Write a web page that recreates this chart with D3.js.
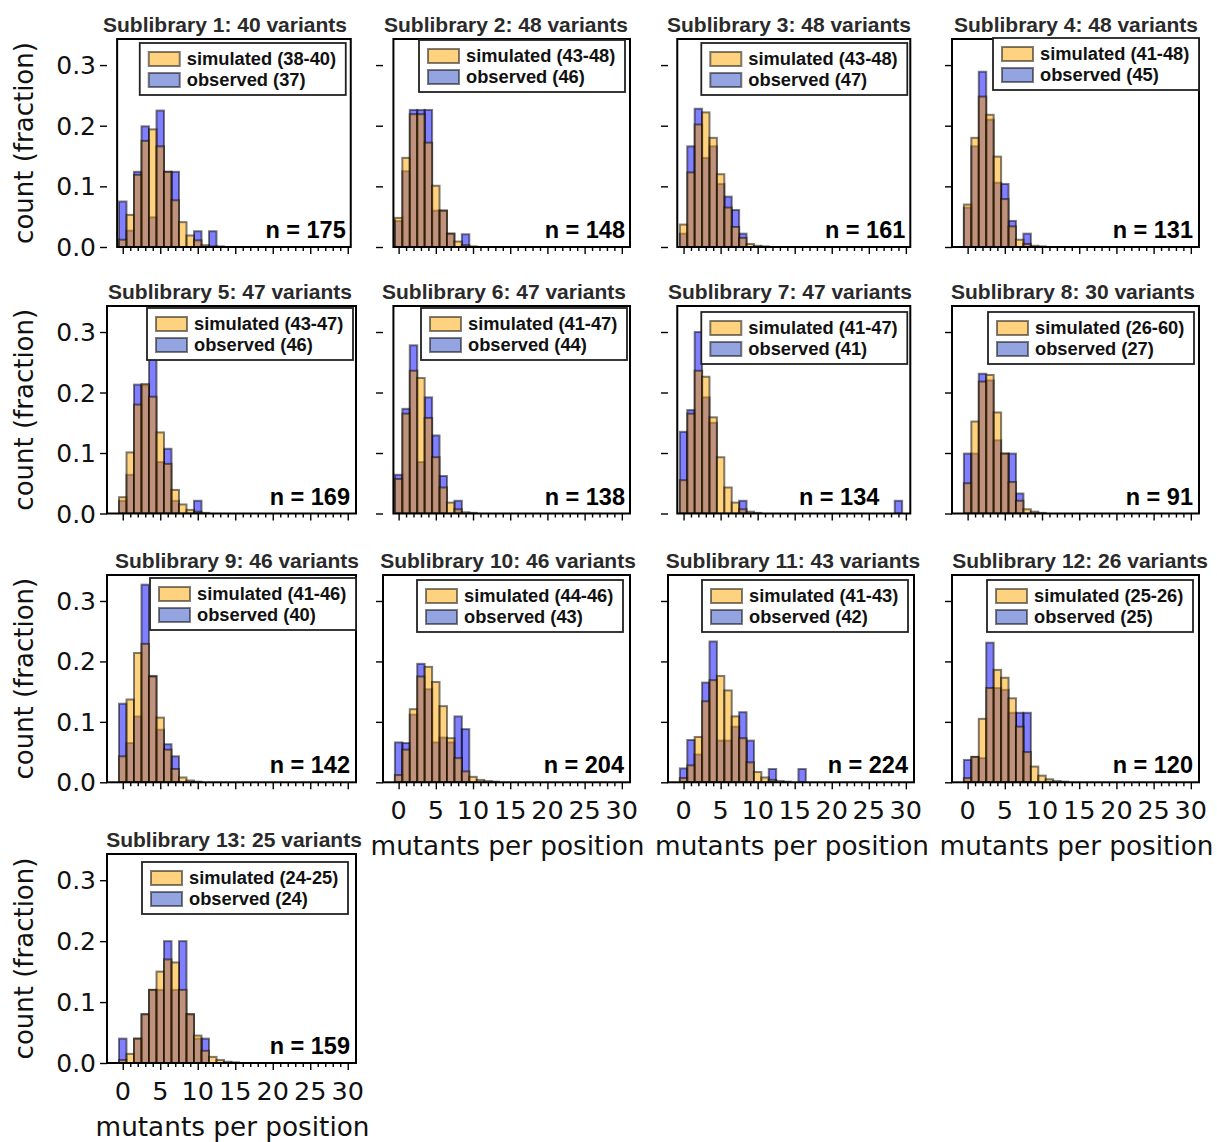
<!DOCTYPE html>
<html><head><meta charset="utf-8">
<script src="https://cdn.jsdelivr.net/npm/d3@7"></script>
<style>body{margin:0;background:#fff}</style>
</head><body><svg id="c" width="1217" height="1142"></svg>
<script>
// ---------------- DATA ----------------
const titles = ["Sublibrary 1: 40 variants","Sublibrary 2: 48 variants","Sublibrary 3: 48 variants","Sublibrary 4: 48 variants",
  "Sublibrary 5: 47 variants","Sublibrary 6: 47 variants","Sublibrary 7: 47 variants","Sublibrary 8: 30 variants",
  "Sublibrary 9: 46 variants","Sublibrary 10: 46 variants","Sublibrary 11: 43 variants","Sublibrary 12: 26 variants",
  "Sublibrary 13: 25 variants"];
const simRanges = ["38-40","43-48","43-48","41-48","43-47","41-47","41-47","26-60","41-46","44-46","41-43","25-26","24-25"];
const obsCounts = [37,46,47,45,46,44,41,27,40,43,42,25,24];
const nPositions = [175,148,161,131,169,138,134,91,142,204,224,120,159];

// fraction per mutants-per-position bin (bin k = k mutants)
const sim1 = [0.012,0.053,0.119,0.175,0.194,0.166,0.124,0.077,0.041,0.019,0.011,0.003,0.001,0.001];
const obs1 = [0.075,0.027,0.124,0.199,0.049,0.225,0.124,0.124,0,0,0.026,0,0.026];
const sim2 = [0.048,0.147,0.219,0.219,0.172,0.101,0.06,0.022,0.009,0.003,0.001];
const obs2 = [0.043,0.125,0.226,0.226,0.226,0.06,0.06,0.022,0,0.021];
const sim3 = [0.037,0.123,0.202,0.222,0.18,0.12,0.065,0.033,0.015,0.005,0.002,0.001];
const obs3 = [0.022,0.166,0.228,0.147,0.166,0.104,0.083,0.061,0.022];
const sim4 = [0.07,0.18,0.248,0.218,0.149,0.079,0.034,0.012,0.005,0.002,0.001];
const obs4 = [0.065,0.166,0.289,0.21,0.106,0.104,0.043,0,0.022];
const sim5 = [0.027,0.101,0.18,0.214,0.193,0.134,0.082,0.039,0.015,0.006,0.003,0.001];
const obs5 = [0.021,0.064,0.213,0.212,0.256,0.085,0.107,0.021,0,0,0.021];
const sim6 = [0.057,0.165,0.236,0.224,0.158,0.093,0.043,0.018,0.007,0.002,0.001];
const obs6 = [0.064,0.173,0.278,0.085,0.192,0.129,0.062,0,0.021];
const sim7 = [0.055,0.165,0.236,0.226,0.159,0.093,0.043,0.018,0.007,0.003,0.001];
const obs7 = [0.135,0.171,0.3,0.192,0.15,0,0,0,0.021,0,0,0,0,0,0,0,0,0,0,0,0,0,0,0,0,0,0,0,0,0.021];
const sim8 = [0.05,0.152,0.218,0.229,0.167,0.099,0.052,0.021,0.007,0.003,0.001];
const obs8 = [0.099,0.099,0.231,0.22,0.121,0.099,0.099,0.033];
const sim9 = [0.043,0.137,0.214,0.229,0.175,0.107,0.054,0.022,0.008,0.003,0.001];
const obs9 = [0.13,0.065,0.109,0.327,0.176,0.087,0.063,0.043];
const sim10 = [0.012,0.054,0.121,0.175,0.191,0.166,0.126,0.073,0.04,0.018,0.009,0.004,0.002,0.001];
const obs10 = [0.066,0.065,0.112,0.196,0.154,0.066,0.074,0.066,0.109,0.088];
const sim11 = [0.007,0.028,0.075,0.134,0.169,0.176,0.152,0.109,0.073,0.033,0.017,0.008,0.004,0.002,0.001];
const obs11 = [0.023,0.07,0.046,0.165,0.233,0.069,0.069,0.092,0.116,0.069,0,0,0.022,0,0,0,0.022];
const sim12 = [0.007,0.042,0.105,0.156,0.186,0.173,0.139,0.092,0.05,0.026,0.011,0.005,0.002,0.001];
const obs12 = [0.037,0.042,0.04,0.231,0.156,0.153,0.115,0.115,0.115];
const sim13 = [0.005,0.015,0.04,0.08,0.12,0.15,0.17,0.165,0.12,0.08,0.045,0.02,0.01,0.005,0.002,0.001];
const obs13 = [0.04,0,0.04,0.08,0.12,0.12,0.2,0.12,0.2,0.08,0.04,0.04];

const simulated = [sim1,sim2,sim3,sim4,sim5,sim6,sim7,sim8,sim9,sim10,sim11,sim12,sim13];
const observed  = [obs1,obs2,obs3,obs4,obs5,obs6,obs7,obs8,obs9,obs10,obs11,obs12,obs13];

const yTicks = [0,0.1,0.2,0.3];
const yTickLabels = ["0.0","0.1","0.2","0.3"];
const xTicks = [0,5,10,15,20,25,30];
const xTickLabels = ["0","5","10","15","20","25","30"];
const xLabel = "mutants per position";
const yLabel = "count (fraction)";

// ---------------- LAYOUT ----------------
const colLeft  = [107, 383, 668, 952];
const colRight = [356, 630, 914, 1199];
const rowTop    = [39, 306, 575, 854];
const rowBottom = [247, 513.5, 782.3, 1063];
const xDomain = [-2.1, 31.1];
const yDomain = [0, 0.343];
// frame extents in data units, per panel
const frameX = [[-0.75,30.4],[-0.7,31.1],[-0.85,30.6],[-2.1,31.1],
                [-2.1,31.1],[-0.7,31.1],[-0.85,30.6],[-2.1,31.1],
                [-2.1,31.1],[-2.1,31.1],[-2.1,31.1],[-2.1,31.1],[-2.1,31.1]];
// title centre (px) per panel
const titleX = [225,506,789,1076,230,504,790,1073,237,508,793,1080,234];
// legend placement tweaks (right pad, top pad)
const legPad = [[5,4],[5,1],[3,4],[0,-1],[3,2],[3,2],[3,6],[5,6],[0,3],[7,5],[6,5],[6,5],[8,8]];
const nPad = [5,5,5,6,6,5,31,6,6,6,6,6,6];
const SIMC = "rgba(255,165,0,0.5)", OBSC = "rgba(0,0,255,0.5)", EDGE = "rgba(0,0,0,0.5)";
const SANS = "'Liberation Sans', Arial, sans-serif";
const DJ = "'DejaVu Sans', sans-serif";

const svg = d3.select("#c");
svg.append("rect").attr("width",1217).attr("height",1142).attr("fill","#fff");

titles.forEach((title, i) => {
  const col = i % 4, row = Math.floor(i / 4);
  const x = d3.scaleLinear().domain(xDomain).range([colLeft[col], colRight[col]]);
  const y = d3.scaleLinear().domain(yDomain).range([rowBottom[row], rowTop[row]]);
  const g = svg.append("g");
  const fx0 = x(frameX[i][0]);
  const fx1 = x(frameX[i][1]);
  const clipId = "clip" + i;
  g.append("clipPath").attr("id", clipId).append("rect")
    .attr("x", fx0).attr("y", y(yDomain[1])).attr("width", fx1 - fx0).attr("height", y(0) - y(yDomain[1]));
  const bars = g.append("g").attr("clip-path", `url(#${clipId})`);
  const drawSeries = (vals, color) => {
    const data = vals.map((v, k) => ({k, v})).filter(d => d.v > 0);
    bars.selectAll(null).data(data).enter().append("rect")
      .attr("x", d => x(d.k - 0.5)).attr("width", d => x(d.k + 0.5) - x(d.k - 0.5))
      .attr("y", d => y(d.v)).attr("height", d => y(0) - y(d.v))
      .attr("fill", color).attr("stroke", EDGE).attr("stroke-width", 2);
  };
  drawSeries(observed[i], OBSC);
  drawSeries(simulated[i], SIMC);

  // x axis ticks
  const xa = d3.axisBottom(x).tickValues(d3.range(0, 31)).tickSize(4).tickFormat("");
  const gx = g.append("g").attr("transform", `translate(0,${y(0)})`).call(xa);
  gx.select(".domain").remove();
  gx.selectAll(".tick line").attr("stroke", "#000").attr("stroke-width", 1.4);
  gx.selectAll(".tick").filter(d => d % 5 === 0).select("line").attr("y2", 7);
  const showXLabels = (row === 2 && col > 0) || row === 3;
  if (showXLabels) {
    g.selectAll(null).data(xTicks).enter().append("text")
      .attr("x", d => x(d)).attr("y", y(0) + 37)
      .attr("text-anchor", "middle").attr("font-family", DJ).attr("font-size", 25.5)
      .attr("fill", "#111").text((d, j) => xTickLabels[j]);
    g.append("text").attr("x", (colLeft[col] + colRight[col]) / 2 + 1).attr("y", y(0) + 73)
      .attr("text-anchor", "middle").attr("font-family", DJ).attr("font-size", 26.3)
      .attr("fill", "#111").text(xLabel);
  }
  // y axis ticks
  const ya = d3.axisLeft(y).tickValues(yTicks).tickSize(7).tickFormat("");
  const gy = g.append("g").attr("transform", `translate(${colLeft[col]},0)`).call(ya);
  gy.select(".domain").remove();
  gy.selectAll(".tick line").attr("stroke", "#000").attr("stroke-width", 1.4);
  if (col === 0) {
    g.selectAll(null).data(yTicks).enter().append("text")
      .attr("x", colLeft[col] - 11).attr("y", d => y(d) + 9)
      .attr("text-anchor", "end").attr("font-family", DJ).attr("font-size", 25)
      .attr("fill", "#111").text((d, j) => yTickLabels[j]);
    const cy = (rowTop[row] + rowBottom[row]) / 2;
    g.append("text").attr("transform", `translate(33,${cy}) rotate(-90)`)
      .attr("text-anchor", "middle").attr("font-family", DJ).attr("font-size", 26)
      .attr("fill", "#111").text(yLabel);
  }
  // frame
  g.append("rect").attr("x", fx0).attr("y", y(yDomain[1])).attr("width", fx1 - fx0)
    .attr("height", y(0) - y(yDomain[1])).attr("fill", "none").attr("stroke", "#000").attr("stroke-width", 2);
  // title
  g.append("text").attr("x", titleX[i]).attr("y", rowTop[row] - 7)
    .attr("text-anchor", "middle").attr("font-family", SANS).attr("font-weight", "bold")
    .attr("font-size", 21).attr("fill", "#2a2a2a").text(title);
  // legend
  const lw = 206, lh = 52;
  const lx = fx1 - legPad[i][0] - lw, ly = y(yDomain[1]) + legPad[i][1];
  const lg = g.append("g").attr("transform", `translate(${lx},${ly})`);
  lg.append("rect").attr("width", lw).attr("height", lh).attr("fill", "#fff")
    .attr("stroke", "#222").attr("stroke-width", 1.8);
  const items = [[SIMC, `simulated (${simRanges[i]})`], ["rgba(60,90,200,0.55)", `observed (${obsCounts[i]})`]];
  items.forEach(([c, t], j) => {
    lg.append("rect").attr("x", 9).attr("y", 9 + j * 21).attr("width", 31).attr("height", 14)
      .attr("fill", c).attr("stroke", EDGE).attr("stroke-width", 2);
    lg.append("text").attr("x", 47).attr("y", 22 + j * 21).attr("font-family", SANS)
      .attr("font-weight", "bold").attr("font-size", 18.3).attr("fill", "#111").text(t);
  });
  // n label
  g.append("text").attr("x", fx1 - nPad[i]).attr("y", y(0) - 9).attr("text-anchor", "end")
    .attr("font-family", SANS).attr("font-weight", "bold").attr("font-size", 23.5)
    .attr("fill", "#000").text(`n = ${nPositions[i]}`);
});
</script></body></html>
